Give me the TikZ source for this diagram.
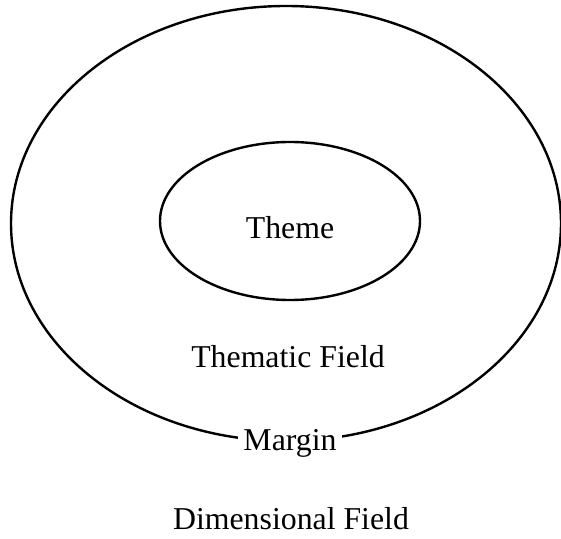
\documentclass[tikz,border=0pt]{standalone}
\usepackage{fontspec}
\setmainfont{Liberation Serif}
\usetikzlibrary{shapes.geometric}

\begin{document}
\begin{tikzpicture}[x=0.5pt, y=-0.5pt,
  ring/.style={draw, ellipse, line width=1.2pt, inner sep=0pt},
  lbl/.style={font=\fontsize{15.9}{19}\selectfont, inner sep=0pt},
  gap/.style={lbl, fill=white, inner sep=2.5pt}
]
\useasboundingbox (0,0) rectangle (561,539);
% outer field and the theme inside it
\node[ring, minimum width=550*0.5pt, minimum height=435*0.5pt] (outer) at (286,223.5) {};
\node[ring, minimum width=260*0.5pt, minimum height=158*0.5pt] (inner) at (290,221) {};
\node[lbl] (theme) at (290,228) {Theme};
\node[lbl] (thematic) at (288,357) {Thematic Field};
% label sits on the outer line
\node[gap] (margin) at (290,443) {Margin};
\node[lbl] (dimensional) at (291,519) {Dimensional Field};
\end{tikzpicture}
\end{document}
